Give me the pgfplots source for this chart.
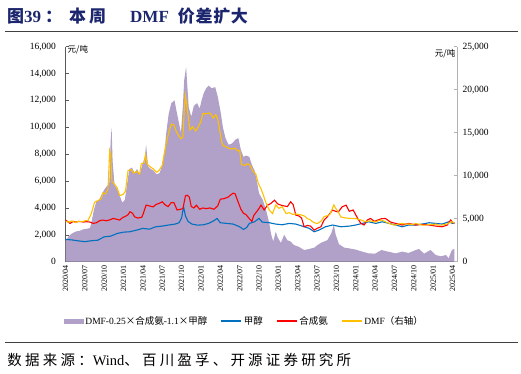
\documentclass[border=0pt]{standalone}
\usepackage{pgfplots}
\pgfplotsset{compat=1.18}
\usepackage{fontspec}
\setmainfont{Liberation Serif}
\newfontfamily\cjk{Noto Sans CJK SC}
\newfontfamily\cjks[LetterSpace=22]{Noto Sans CJK SC}
\newfontfamily\cjkt[LetterSpace=4]{Noto Sans CJK SC}
\definecolor{cpurple}{RGB}{177,160,199}
\definecolor{cblue}{RGB}{0,112,192}
\definecolor{cred}{RGB}{255,0,0}
\definecolor{corange}{RGB}{255,192,0}
\definecolor{ctitle}{RGB}{28,38,110}
\definecolor{caxis}{RGB}{90,90,90}

\pgfplotstableread{
m v
0 1500
0.5 1900
1.0 2100
1.6 2250
2.2 2300
2.7 2400
3.3 2450
3.8 2500
4.1 3100
4.4 3850
4.8 4500
5.2 4600
5.6 5000
6.0 5350
6.4 5600
6.8 5850
7.0 9000
7.15 10000
7.3 7500
7.6 5700
8.0 5400
8.5 4800
8.8 4400
9.2 4600
9.5 5600
9.9 6900
10.3 7000
10.7 6600
11.1 6900
11.5 6500
11.9 7200
12.3 7800
12.5 8700
12.8 7100
13.2 6900
13.6 6800
14.1 6500
14.6 6600
15.0 7200
15.4 8400
15.6 9500
16.0 11000
16.4 11800
16.9 12000
17.3 11000
17.6 10300
17.9 9600
18.2 11600
18.4 13500
18.7 14500
18.9 13000
19.1 11500
19.5 10800
19.9 11600
20.4 11800
20.8 11400
21.1 12000
21.4 12500
21.8 12900
22.2 13100
22.7 12900
23.2 13000
23.6 12300
24.1 11000
24.4 10000
24.8 9200
25.3 8700
25.8 8800
26.4 9100
26.8 9200
27.2 8300
27.6 7800
28.0 7900
28.5 7800
28.9 7200
29.3 6800
29.6 6200
30.0 5100
30.6 4580
31.1 3840
31.6 2850
31.85 2100
32.2 1500
32.6 2230
32.9 1800
33.4 1400
33.9 2000
34.4 1600
34.9 1500
35.4 1250
36.2 1100
37.0 870
37.8 950
38.6 1050
39.1 1250
39.8 1450
40.6 1600
41.2 2100
41.6 2730
41.9 2000
42.4 1300
43.2 1050
44.0 990
45.0 900
46.0 750
47.0 620
48.0 600
49.0 870
50.0 750
51.2 620
52.2 750
53.2 650
54.3 870
54.8 950
55.6 600
56.6 870
57.4 500
58.2 400
59.0 500
59.4 250
59.9 870
60.3 950
}\spread

\pgfplotstableread{
m v
0 1660
1 1620
2 1550
3 1490
4 1560
5 1600
6 1850
7 1900
8 2100
9 2200
10 2230
11 2350
12 2480
13 2420
14 2600
15 2650
16 2730
17 2800
17.6 2900
18.0 3250
18.3 4090
18.6 3400
19.0 3000
19.6 2800
20.5 2720
21.4 2750
22.2 2850
23.0 3050
23.5 3220
24.0 2900
25.0 2850
26.0 2800
27.0 2600
27.6 2400
28.1 2550
28.5 2850
29.3 2970
30.0 3220
30.5 2950
31.6 2900
32.6 2800
33.6 2750
34.7 2850
35.7 2800
36.7 2650
37.8 2480
38.55 2230
39.3 2350
40.3 2600
41.4 2730
42.7 2600
44.0 2650
45.0 2730
46.0 2850
47.0 2970
48.1 2850
49.1 2970
50.2 2850
51.2 2730
52.2 2600
53.2 2730
54.3 2730
55.3 2800
56.4 2900
57.4 2850
58.4 2800
59.4 2970
60.0 2850
60.3 2900
}\methanol

\pgfplotstableread{
m v
0 3100
0.3 3000
0.7 2850
1.2 3000
1.6 2950
2.2 3000
2.8 2950
3.2 2980
3.8 2950
4.3 2850
4.8 2900
5.3 3050
5.8 3100
6.3 3050
6.8 3100
7.4 3220
8 3150
8.4 3100
8.9 3300
9.2 3350
9.7 3500
10.0 3720
10.4 3600
10.7 3350
11.2 3250
11.8 3300
12.0 3500
12.5 4210
13.0 4150
13.6 4080
14.0 4250
14.5 4340
15.0 4460
15.4 4250
15.9 4100
16.4 4400
16.8 4400
17.3 3850
17.8 3900
18.2 3950
18.6 4900
18.9 4950
19.2 4800
19.5 4100
19.9 4000
20.3 4200
20.8 3900
21.3 4000
21.8 3950
22.4 4000
23.0 3900
23.6 4150
24.0 4650
24.6 4700
25.2 4800
25.7 5000
26.0 5100
26.3 5050
26.8 4400
27.2 3900
27.6 3600
28.0 3500
28.5 3200
28.9 3000
29.2 3450
29.6 3700
30.0 3960
30.3 4210
30.8 3850
31.3 4200
31.85 4340
32.4 4580
32.9 4300
33.4 4210
33.9 4150
34.4 4100
34.9 4460
35.3 4250
35.7 3470
36.2 3400
36.6 3250
37.0 2600
37.5 2700
38.0 2650
38.55 2350
39.1 2500
39.6 2600
40.1 3100
40.6 3350
41.4 3840
41.9 3750
42.3 3700
42.9 4090
43.5 4210
44.0 3750
44.6 3850
45.3 3220
45.8 2850
46.3 2730
46.8 3100
47.3 3220
47.9 3000
48.4 3100
49.0 3200
49.6 3220
50.4 2950
51.2 2850
52.2 2730
53.2 2850
54.3 2730
55.3 2780
56.4 2730
57.4 2650
58.4 2600
59.2 2730
59.7 3100
60.0 2950
60.3 2850
}\ammonia

\pgfplotstableread{
m v
0 4700
0.5 4600
1 4750
1.5 4550
2 4700
2.5 4650
3 4750
3.5 4800
4 5600
4.5 6900
5 7100
5.5 7300
5.8 8000
6.2 7900
6.6 8500
6.85 12900
7.0 12500
7.2 9300
7.5 9100
8 8600
8.4 7700
8.9 7800
9.3 8200
9.7 10600
10.2 10700
10.6 10300
11 10500
11.5 10200
11.75 11400
12.2 11500
12.4 12400
12.7 11300
13.2 11000
13.6 10800
14.1 10400
14.5 10600
15 11200
15.3 12500
15.6 13700
16 15000
16.4 16000
16.8 15900
17.2 15100
17.6 14600
17.9 14300
18.2 14500
18.4 17500
18.6 19300
18.9 17600
19.1 16500
19.3 15300
19.7 15700
20.2 15200
20.6 15700
21 16300
21.3 17200
21.8 17200
22.3 17300
22.6 17100
22.9 16700
23.3 17100
23.6 16600
23.9 15300
24.2 14000
24.4 13500
24.8 13400
25.3 13200
25.8 13100
26.3 13200
26.7 12900
27.0 12900
27.3 11300
27.8 11200
28.3 11400
28.7 11100
29.0 10600
29.5 10200
29.9 9100
30.3 8500
30.6 7900
31.1 6800
31.6 6000
32.1 5600
32.6 6600
33.1 6200
33.6 6400
34.2 5600
34.7 5700
35.2 5500
35.7 5550
36.2 5500
36.7 5400
37.1 5300
37.5 5000
37.9 4900
38.3 4650
38.7 4500
39.1 4450
39.6 4700
40.1 5250
40.6 5350
41.0 5500
41.6 6600
41.9 6200
42.2 5900
42.7 5200
43.3 5100
43.9 5050
44.5 5030
45.1 5000
45.8 4850
46.5 4650
47.2 4750
47.6 4700
48.1 4600
48.6 4800
49.1 4840
49.7 4600
50.2 4450
50.7 4300
51.2 4260
51.7 4400
52.2 4450
52.8 4350
53.2 4400
53.7 4300
54.3 4450
54.8 4350
55.3 4250
55.9 4250
56.4 4350
56.9 4300
57.4 4380
57.9 4250
58.4 4260
58.9 4350
59.2 4400
59.6 4550
59.9 4650
60.3 4500
}\dmf

\begin{document}
\begin{tikzpicture}
\path[use as bounding box] (-65.5pt,-111.3pt) rectangle (455.5pt,261.7pt);
\pgfplotsset{
  common/.style={
    scale only axis, width=391.5pt, height=215pt,
    xmin=0, xmax=60.7,
    tick align=inside,
    major tick length=3pt,
    ticklabel style={font=\fontsize{9.5}{9.5}\selectfont},
    /pgf/number format/.cd, 1000 sep={,}, assume math mode=true,
  },
}
\begin{axis}[common,
  ymin=0, ymax=16000,
  axis x line*=bottom, axis y line*=left,
  axis line style={caxis, line width=0.6pt},
  tick style={caxis, line width=0.5pt},
  ytick={0,2000,...,16000},
  scaled y ticks=false,
  xtick={0,3,...,60},
  xticklabels={2020/04,2020/07,2020/10,2021/01,2021/04,2021/07,2021/10,2022/01,2022/04,2022/07,2022/10,2023/01,2023/04,2023/07,2023/10,2024/01,2024/04,2024/07,2024/10,2025/01,2025/04},
  xticklabel style={rotate=90, anchor=east, font=\fontsize{8}{8}\selectfont},
  yticklabel style={xshift=-6pt},
]
\addplot[fill=cpurple, draw=none] table[x=m,y=v] {\spread} \closedcycle;
\addplot[cblue, line width=1.1pt] table[x=m,y=v] {\methanol};
\addplot[cred, line width=1.1pt] table[x=m,y=v] {\ammonia};
\end{axis}
\begin{axis}[common,
  ymin=0, ymax=25000,
  axis x line=none, axis y line*=right,
  axis line style={black!30, line width=0.6pt},
  tick style={black!30, line width=0.5pt},
  ytick={0,5000,...,25000},
  scaled y ticks=false,
  yticklabel style={xshift=2pt},
  legend columns=4,
  legend style={at={(axis description cs:-0.012,-0.276)}, anchor=west, draw=none, fill=none,
    font=\fontsize{9.5}{9.5}\selectfont, /tikz/every even column/.append style={column sep=11pt}},
]
\addlegendimage{legend image code/.code={\fill[cpurple] (0pt,-2pt) rectangle (19pt,2pt);}}
\addlegendentry{DMF-0.25{\cjk ×合成氨}-1.1{\cjk ×甲醇}}
\addlegendimage{legend image code/.code={\draw[cblue, line width=1.5pt] (0pt,0pt) -- (20pt,0pt);}}
\addlegendentry{{\cjk 甲醇}}
\addlegendimage{legend image code/.code={\draw[cred, line width=1.5pt] (0pt,0pt) -- (20pt,0pt);}}
\addlegendentry{{\cjk 合成氨}}
\addplot[corange, line width=1.1pt, legend image code/.code={\draw[corange, line width=1.5pt] (0pt,0pt) -- (20pt,0pt);}] table[x=m,y=v] {\dmf};
\addlegendentry{DMF{\cjk （右轴）}}
\end{axis}
\node[anchor=west, inner sep=0pt, font=\fontsize{8.5}{8.5}\selectfont\cjk] at (2pt,212.5pt) {元/吨};
\node[anchor=east, inner sep=0pt, font=\fontsize{8.5}{8.5}\selectfont\cjk] at (390pt,208.5pt) {元/吨};
\node[anchor=west, inner sep=0pt, text=ctitle, font=\fontsize{17}{17}\selectfont\bfseries] at (-58.5pt,246pt)
  {{\cjk 图}39\hspace{4pt}{\cjk ：}\hspace{7pt}{\cjk 本}\hspace{3pt}{\cjk 周}\hspace{24pt}DMF\hspace{9pt}{\cjkt 价差扩大}};
\draw[black!75, line width=1.2pt] (-60.5pt,230pt) -- (452pt,230pt);
\draw[black!75, line width=1.2pt] (-60.5pt,-80.6pt) -- (452pt,-80.6pt);
\node[anchor=west, inner sep=0pt, font=\fontsize{14.5}{14.5}\selectfont] at (-58.2pt,-98.3pt)
  {{\cjks 数据来源：}Wind{\cjks 、百川盈孚、开源证券研究所}};
\end{tikzpicture}
\end{document}
